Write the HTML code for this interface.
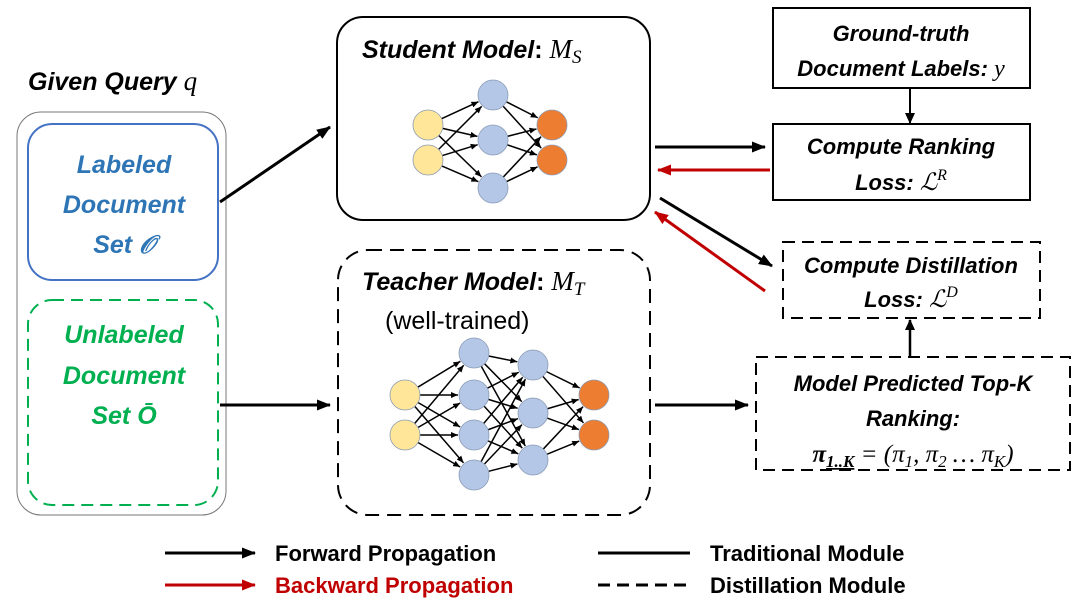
<!DOCTYPE html>
<html><head><meta charset="utf-8"><style>
html,body{margin:0;padding:0;background:#fff;}
svg{display:block;}
text{font-family:"Liberation Sans",sans-serif;font-weight:bold;font-style:italic;}
text.n{font-style:normal;}
text.w{font-style:normal;font-weight:normal;}
.m{font-family:"Liberation Serif","DejaVu Serif",serif;font-style:italic;font-weight:normal;}
</style></head><body>
<svg id="s" width="1080" height="606" viewBox="0 0 1080 606" xmlns="http://www.w3.org/2000/svg">
<defs>
<marker id="ab" markerWidth="14" markerHeight="11" refX="13" refY="5.5" orient="auto" markerUnits="userSpaceOnUse"><path d="M0,0 L14,5.5 L0,11 z" fill="#000"/></marker>
<marker id="ar" markerWidth="14" markerHeight="11" refX="13" refY="5.5" orient="auto" markerUnits="userSpaceOnUse"><path d="M0,0 L14,5.5 L0,11 z" fill="#c00000"/></marker>
<marker id="am" markerWidth="11" markerHeight="10" refX="10" refY="5" orient="auto" markerUnits="userSpaceOnUse"><path d="M0,0 L11,5 L0,10 z" fill="#000"/></marker>
<marker id="as" markerWidth="7" markerHeight="6" refX="7" refY="3" orient="auto" markerUnits="userSpaceOnUse"><path d="M0,0 L7,3 L0,6 z" fill="#000"/></marker>
</defs>
<text x="28" y="90" font-size="25" fill="#000">Given Query <tspan class="m" font-weight="bold" font-size="27">q</tspan></text>
<rect x="17" y="112" width="209" height="403" rx="24" fill="none" stroke="#777" stroke-width="1"/>
<rect x="28" y="124" width="190" height="156" rx="24" fill="none" stroke="#4472c4" stroke-width="2"/>
<g fill="#2e75b6" font-size="25" text-anchor="middle">
<text x="124" y="173">Labeled</text><text x="124" y="213">Document</text><text x="124" y="253">Set 𝒪</text></g>
<rect x="28" y="300" width="190" height="205" rx="24" fill="none" stroke="#00b050" stroke-width="2" stroke-dasharray="12,7"/>
<g fill="#00b050" font-size="25" text-anchor="middle">
<text x="124" y="343">Unlabeled</text><text x="124" y="384">Document</text><text x="124" y="424">Set Ō</text></g>

<rect x="337" y="17" width="313" height="203" rx="26" fill="none" stroke="#000" stroke-width="2"/>
<text x="362" y="58" font-size="25">Student Model<tspan font-style="normal">: </tspan><tspan class="m" font-size="27">M<tspan font-size="19" dy="5">S</tspan></tspan></text>
<rect x="338" y="250" width="312" height="265" rx="30" fill="none" stroke="#000" stroke-width="2" stroke-dasharray="14,8"/>
<text x="362" y="290" font-size="25">Teacher Model<tspan font-style="normal">: </tspan><tspan class="m" font-size="27">M<tspan font-size="19" dy="5">T</tspan></tspan></text>
<text x="385" y="329" font-size="25" class="w">(well-trained)</text>
<g id="net"></g>

<rect x="773" y="8" width="257" height="80" fill="none" stroke="#000" stroke-width="2"/>
<g font-size="22" text-anchor="middle"><text x="901" y="41">Ground-truth</text><text x="901" y="76">Document Labels: <tspan class="m" font-weight="bold" font-size="24">y</tspan></text></g>
<line x1="910" y1="88" x2="910" y2="123" stroke="#000" stroke-width="2" marker-end="url(#am)"/>
<rect x="773" y="124" width="257" height="76" fill="none" stroke="#000" stroke-width="2"/>
<g font-size="22" text-anchor="middle"><text x="901" y="154">Compute Ranking</text><text x="901" y="190">Loss: <tspan class="m" font-size="24">ℒ<tspan font-size="16" dy="-10">R</tspan></tspan></text></g>
<rect x="783" y="242" width="257" height="76" fill="none" stroke="#000" stroke-width="2" stroke-dasharray="12,7"/>
<g font-size="22" text-anchor="middle"><text x="911" y="273">Compute Distillation</text><text x="911" y="307">Loss: <tspan class="m" font-size="24">ℒ<tspan font-size="16" dy="-10">D</tspan></tspan></text></g>
<line x1="910" y1="357" x2="910" y2="320" stroke="#000" stroke-width="2.5" marker-end="url(#am)"/>
<rect x="756" y="357" width="314" height="113" fill="none" stroke="#000" stroke-width="2" stroke-dasharray="12,7"/>
<g font-size="22" text-anchor="middle"><text x="913" y="391">Model Predicted Top-K</text><text x="913" y="426">Ranking:</text>
<text x="913" y="462" class="m" font-size="25"><tspan font-weight="bold">π</tspan><tspan font-size="17" dy="5" font-weight="bold" text-decoration="underline">1..K</tspan><tspan dy="-5"> = (π</tspan><tspan font-size="17" dy="5">1</tspan><tspan dy="-5">, π</tspan><tspan font-size="17" dy="5">2</tspan><tspan dy="-5"> … π</tspan><tspan font-size="17" dy="5">K</tspan><tspan dy="-5">)</tspan></text></g>

<g stroke-width="3" fill="none">
<line x1="220" y1="202" x2="330" y2="127" stroke="#000" marker-end="url(#ab)"/>
<line x1="220" y1="405" x2="330" y2="405" stroke="#000" marker-end="url(#ab)"/>
<line x1="655" y1="405" x2="748" y2="405" stroke="#000" marker-end="url(#ab)"/>
<line x1="655" y1="147" x2="765" y2="147" stroke="#000" marker-end="url(#ab)"/>
<line x1="770" y1="170" x2="658" y2="170" stroke="#c00000" marker-end="url(#ar)"/>
<line x1="660" y1="198" x2="772" y2="266" stroke="#000" marker-end="url(#ab)"/>
<line x1="765" y1="291" x2="655" y2="212" stroke="#c00000" marker-end="url(#ar)"/>
<line x1="165" y1="553" x2="255" y2="553" stroke="#000" marker-end="url(#ab)"/>
<line x1="165" y1="585" x2="255" y2="585" stroke="#c00000" marker-end="url(#ar)"/>
<line x1="598" y1="553" x2="690" y2="553" stroke="#000"/>
<line x1="598" y1="585" x2="690" y2="585" stroke="#000" stroke-dasharray="12,7"/>
</g>
<g font-size="22">
<text class="n" x="275" y="561">Forward Propagation</text>
<text class="n" x="275" y="593" fill="#c00000">Backward Propagation</text>
<text class="n" x="710" y="561">Traditional Module</text>
<text class="n" x="710" y="593">Distillation Module</text>
</g>
</svg>
<script>
var NS="http://www.w3.org/2000/svg",g=document.getElementById("net"),r=15;
function net(layers,cols){
 for(var i=0;i<layers.length-1;i++){var a=layers[i],b=layers[i+1];
  a.ys.forEach(function(y1){b.ys.forEach(function(y2){
   var dx=b.x-a.x,dy=y2-y1,l=Math.sqrt(dx*dx+dy*dy);
   var e=document.createElementNS(NS,"line");
   e.setAttribute("x1",a.x+dx/l*r);e.setAttribute("y1",y1+dy/l*r);
   e.setAttribute("x2",b.x-dx/l*(r+1));e.setAttribute("y2",y2-dy/l*(r+1));
   e.setAttribute("stroke","#000");e.setAttribute("stroke-width","1.5");e.setAttribute("marker-end","url(#as)");g.appendChild(e);});});}
 layers.forEach(function(L,i){L.ys.forEach(function(y){var c=document.createElementNS(NS,"circle");
  c.setAttribute("cx",L.x);c.setAttribute("cy",y);c.setAttribute("r",r);c.setAttribute("fill",cols[i]);c.setAttribute("stroke","#8a9bb5");c.setAttribute("stroke-width","0.8");g.appendChild(c);});});
}
net([{x:428,ys:[125,160]},{x:493,ys:[95,140,188]},{x:552,ys:[125,160]}],["#ffe699","#b4c7e7","#ed7d31"]);
net([{x:405,ys:[395,435]},{x:474,ys:[353,395,435,475]},{x:533,ys:[365,413,460]},{x:594,ys:[395,435]}],["#ffe699","#b4c7e7","#b4c7e7","#ed7d31"]);
</script>
</body></html>
